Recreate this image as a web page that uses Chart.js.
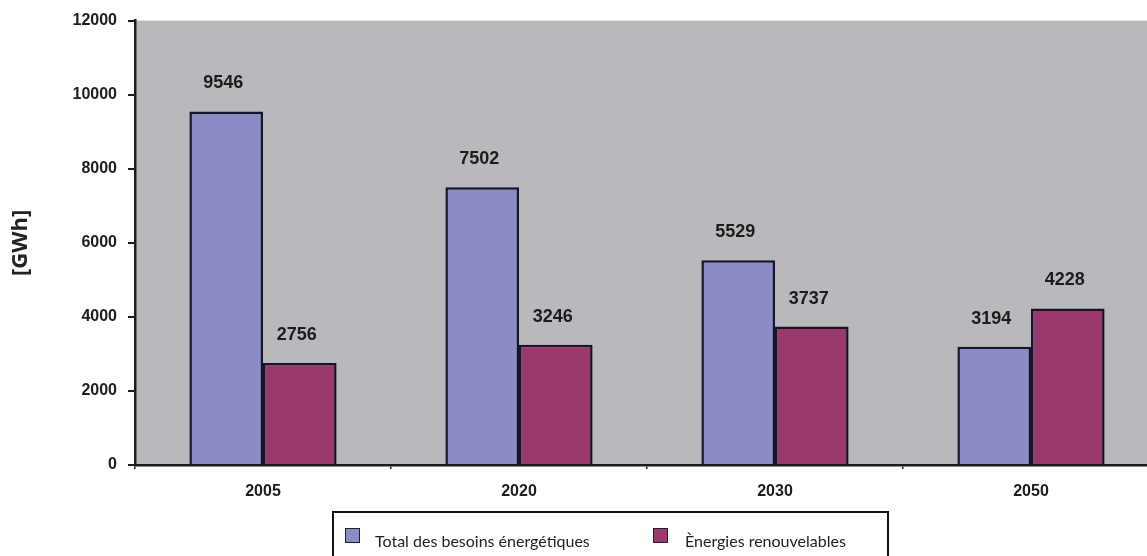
<!DOCTYPE html>
<html>
<head>
<meta charset="utf-8">
<script src="https://cdn.jsdelivr.net/npm/chart.js@4"></script>
<style>
    html, body {
        margin: 0;
        padding: 0;
        background: #ffffff;
        overflow: hidden;
    }
    .chart-container {
        position: relative;
        width: 1160px;
        height: 556px;
    }
</style>
</head>
<body>
<div class="chart-container">
    <canvas id="chart" width="1160" height="556"></canvas>
</div>
<script>
// Energy needs vs renewables, in GWh
const years = ['2005', '2020', '2030', '2050'];
const totalNeeds = [9546, 7502, 5529, 3194];
const renewables = [2756, 3246, 3737, 4228];
const seriesLabels = ['Total des besoins énergétiques', 'Ènergies renouvelables'];
const yTicks = [0, 2000, 4000, 6000, 8000, 10000, 12000];

const plotGray = '#b9b8bd';
const inkColor = '#1c1c1c';
const boldFont = '"Liberation Sans", Arial, sans-serif';

// Gray plot background, like the old spreadsheet look
const plotBackground = {
    id: 'plotBackground',
    beforeDraw(chart) {
        const { ctx, chartArea } = chart;
        ctx.save();
        ctx.fillStyle = plotGray;
        ctx.fillRect(chartArea.left, chartArea.top, chartArea.right - chartArea.left, chartArea.bottom - chartArea.top);
        ctx.restore();
    }
};

// Value labels above every bar
const valueLabels = {
    id: 'valueLabels',
    afterDatasetsDraw(chart) {
        const { ctx } = chart;
        ctx.save();
        ctx.font = 'bold 18px ' + boldFont;
        ctx.fillStyle = inkColor;
        ctx.textAlign = 'center';
        ctx.textBaseline = 'middle';
        chart.data.datasets.forEach((ds, i) => {
            chart.getDatasetMeta(i).data.forEach((bar, j) => {
                ctx.fillText(String(ds.data[j]), bar.x - 3, bar.y - 28);
            });
        });
        ctx.restore();
    }
};

// Boxed legend under the axis
const boxedLegend = {
    id: 'boxedLegend',
    afterDraw(chart) {
        const { ctx } = chart;
        const box = { left: 333, top: 512, width: 555, height: 60 };
        const items = [
            { sq: 345, text: 375 },
            { sq: 653, text: 685 }
        ];
        ctx.save();
        ctx.strokeStyle = '#111111';
        ctx.lineWidth = 2;
        ctx.strokeRect(box.left, box.top, box.width, box.height);
        ctx.font = '16px Lato, "Open Sans", sans-serif';
        ctx.textBaseline = 'alphabetic';
        ctx.textAlign = 'left';
        chart.data.datasets.forEach((ds, i) => {
            const it = items[i];
            ctx.fillStyle = ds.backgroundColor;
            ctx.fillRect(it.sq, 528, 15, 15);
            ctx.strokeStyle = '#222';
            ctx.lineWidth = 1;
            ctx.strokeRect(it.sq + 0.5, 528.5, 14, 14);
            ctx.fillStyle = '#222';
            ctx.fillText(ds.label, it.text, 547);
        });
        ctx.restore();
    }
};

const data = {
    labels: years,
    datasets: [
        {
            label: seriesLabels[0],
            data: totalNeeds,
            backgroundColor: '#8b8cc7',
            borderColor: '#15152a',
            borderWidth: 2.5
        },
        {
            label: seriesLabels[1],
            data: renewables,
            backgroundColor: '#9b386d',
            borderColor: '#15152a',
            borderWidth: 2.5
        }
    ]
};

new Chart(document.getElementById('chart').getContext('2d'), {
    type: 'bar',
    data: data,
    options: {
        responsive: false,
        animation: false,
        layout: {
            padding: { top: 19, right: 1, bottom: 0, left: 0 }
        },
        datasets: {
            bar: {
                barPercentage: 1,
                categoryPercentage: 0.575
            }
        },
        plugins: {
            legend: { display: false },
            tooltip: { enabled: false }
        },
        scales: {
            x: {
                afterFit(scale) { scale.height = 91; },
                grid: {
                    drawOnChartArea: false,
                    color: inkColor,
                    tickLength: 4,
                    lineWidth: 1.5
                },
                border: { color: inkColor, width: 2.5 },
                ticks: {
                    color: inkColor,
                    padding: 13,
                    font: { family: boldFont, size: 16, weight: 'bold' }
                }
            },
            y: {
                min: 0,
                max: 12000,
                afterFit(scale) { scale.width = 135; },
                afterBuildTicks(scale) {
                    scale.ticks = yTicks.map(v => ({ value: v }));
                },
                grid: {
                    drawOnChartArea: false,
                    color: inkColor,
                    tickLength: 7,
                    lineWidth: 2
                },
                border: { color: inkColor, width: 2.5 },
                ticks: {
                    color: inkColor,
                    padding: 11,
                    callback: v => String(v),
                    font: { family: boldFont, size: 16, weight: 'bold' }
                },
                title: {
                    display: true,
                    text: '[GWh]',
                    color: '#222',
                    padding: { top: 8, bottom: 0 },
                    font: { family: '"Open Sans", sans-serif', size: 22, weight: 'bold' }
                }
            }
        }
    },
    plugins: [plotBackground, valueLabels, boxedLegend]
});
</script>
</body>
</html>
